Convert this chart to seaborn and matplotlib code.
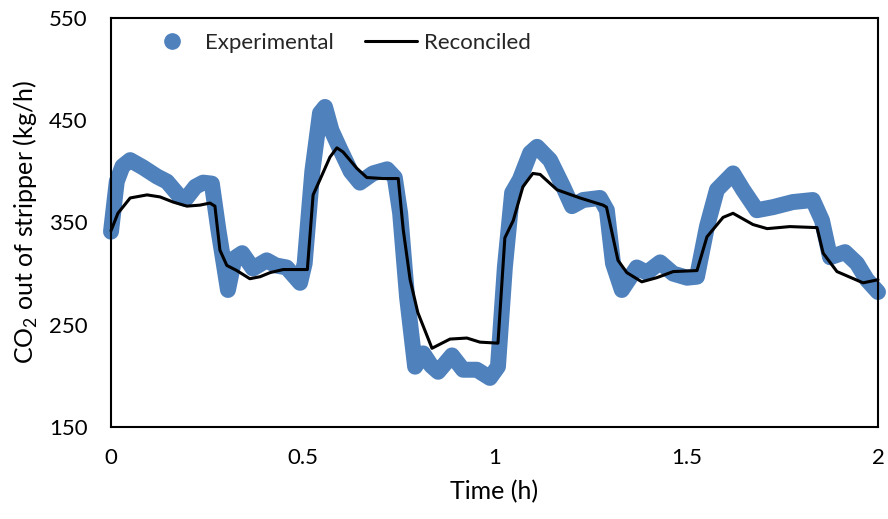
import numpy as np
import pandas as pd
import matplotlib
matplotlib.use("Agg")
import matplotlib.pyplot as plt
from matplotlib.lines import Line2D
import seaborn as sns

t_exp = [0, 0.015, 0.03, 0.05, 0.083, 0.12, 0.146, 0.18, 0.195, 0.22, 0.24, 0.263,
         0.28, 0.305, 0.322, 0.342, 0.37, 0.406, 0.43, 0.458, 0.493, 0.505, 0.525,
         0.545, 0.558, 0.575, 0.597, 0.625, 0.649, 0.683, 0.72, 0.74, 0.754, 0.772,
         0.793, 0.814, 0.835, 0.853, 0.889, 0.918, 0.954, 0.988, 1.009, 1.027, 1.046,
         1.066, 1.093, 1.111, 1.145, 1.179, 1.202, 1.231, 1.275, 1.293, 1.309, 1.332,
         1.371, 1.397, 1.432, 1.466, 1.502, 1.528, 1.554, 1.58, 1.622, 1.648, 1.684,
         1.726, 1.778, 1.83, 1.854, 1.875, 1.914, 1.945, 1.971, 2.0]
co2_exp = [341, 390, 405, 411, 404, 395, 390, 375, 373, 385, 389, 388,
           343, 284, 315, 320, 305, 313, 308, 306, 291, 310, 400,
           457, 463, 440, 422, 400, 389, 398, 402, 394, 359, 277,
           209, 222, 210, 204, 220, 206, 206, 198, 209, 306, 379,
           392, 418, 424, 411, 385, 366, 372, 374, 362, 310, 284,
           306, 301, 311, 300, 296, 297, 346, 382, 398, 382, 362,
           365, 370, 372, 352, 316, 321, 310, 294, 282]

# reconciled data
t_rec = [0, 0.018, 0.05, 0.094, 0.128, 0.162, 0.198, 0.232, 0.258, 0.271, 0.284,
         0.302, 0.328, 0.362, 0.389, 0.415, 0.449, 0.5, 0.512, 0.527, 0.545, 0.571,
         0.589, 0.605, 0.641, 0.667, 0.709, 0.749, 0.762, 0.78, 0.8, 0.837, 0.884,
         0.928, 0.962, 1.009, 1.027, 1.049, 1.074, 1.1, 1.119, 1.163, 1.223, 1.283,
         1.292, 1.322, 1.345, 1.384, 1.423, 1.466, 1.528, 1.554, 1.596, 1.622, 1.674,
         1.711, 1.77, 1.841, 1.857, 1.893, 1.961, 2.0]
co2_rec = [342, 359, 374, 377, 375, 370, 366, 367, 369, 366, 323,
           308, 303, 295, 297, 301, 304, 304, 304, 377, 392, 414,
           423, 419, 403, 394, 393, 393, 343, 294, 262, 227, 236,
           237, 233, 232, 335, 352, 385, 398, 397, 382, 374, 367,
           365, 313, 301, 292, 296, 302, 303, 336, 355, 359, 348,
           344, 346, 345, 320, 302, 291, 294]

exp_df = pd.DataFrame({"t": t_exp, "co2": co2_exp})
rec_df = pd.DataFrame({"t": t_rec, "co2": co2_rec})

sns.set_theme(style="white")
plt.rcParams['font.family'] = ['Lato', 'DejaVu Sans']
plt.rcParams['mathtext.fontset'] = 'custom'
plt.rcParams['mathtext.rm'] = 'Lato'

blue = '#4F81BD'

fig = plt.figure(figsize=(8.88, 5.19), dpi=100)
ax = fig.add_axes([111/888, 1-427/519, 767/888, 409/519])

sns.lineplot(data=exp_df, x="t", y="co2", color=blue, lw=11.5,
             solid_capstyle='round', solid_joinstyle='round', clip_on=False, ax=ax)
sns.lineplot(data=rec_df, x="t", y="co2", color='black', lw=2.2,
             solid_joinstyle='round', clip_on=False, ax=ax)

ax.set_xlim(0, 2)
ax.set_ylim(150, 550)
ax.set_xticks([0, 0.5, 1, 1.5, 2])
ax.set_xticklabels(["0", "0.5", "1", "1.5", "2"])
ax.set_yticks([150, 250, 350, 450, 550])
ax.tick_params(axis='x', length=0, pad=15, labelsize=16, colors='black')
ax.tick_params(axis='y', length=0, pad=17, labelsize=16, colors='black')
for s in ax.spines.values():
    s.set_color('black')
    s.set_linewidth(1.5)
    s.set_zorder(5)

ax.set_xlabel("Time (h)", fontsize=18, color='black', labelpad=9)
ax.set_ylabel("CO$_2$ out of stripper (kg/h)", fontsize=18, color='black', labelpad=6)

handles = [Line2D([], [], color=blue, marker='o', ls='none', markersize=11),
           Line2D([], [], color='black', lw=2.2)]
ax.legend(handles, ["Experimental", "Reconciled"], ncol=2, frameon=False,
          loc='center left', bbox_to_anchor=(146/888, 1-43/519),
          bbox_transform=fig.transFigure, borderpad=0, borderaxespad=0,
          handlelength=2.34, handletextpad=0.32, columnspacing=1.4, fontsize=16)

fig.savefig("out.png", dpi=100)
